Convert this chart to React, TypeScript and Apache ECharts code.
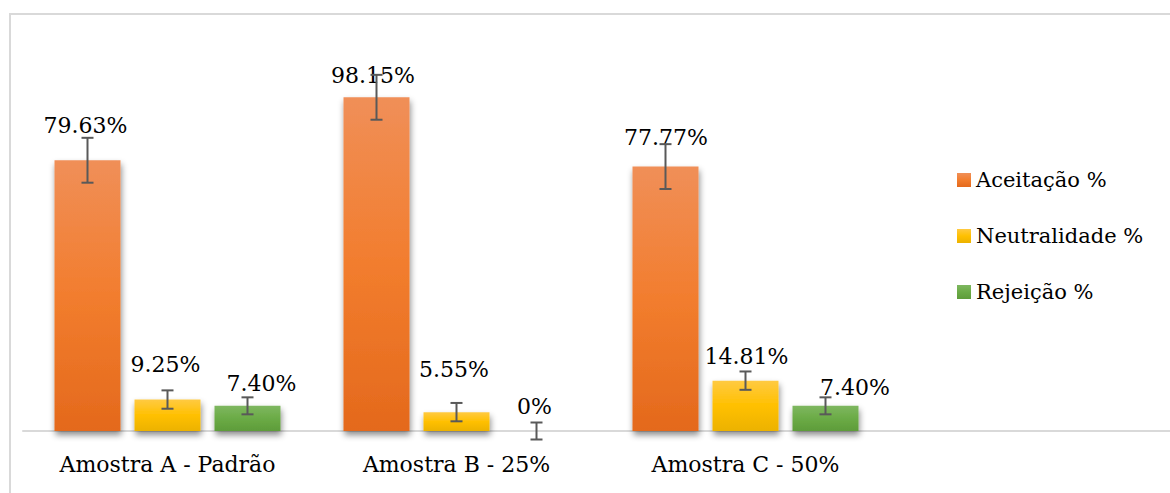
import React, { useEffect, useRef } from "react";
import * as echarts from "echarts";

const CATEGORIES = ["Amostra A - Padrão", "Amostra B - 25%", "Amostra C - 50%"];
const SERIES_NAMES = ["Aceitação %", "Neutralidade %", "Rejeição %"];
const ACEITACAO = [79.63, 98.15, 77.77];
const NEUTRALIDADE = [9.25, 5.55, 14.81];
const REJEICAO = [7.4, 0, 7.4];
const ERR_ACEITACAO = [6.6, 6.6, 6.6];
const ERR_NEUTRALIDADE = [2.7, 2.7, 2.7];
const ERR_REJEICAO = [2.5, 2.5, 2.5];

// style constants
const FONT = "DejaVu Serif";
const FONT_SIZE = 22;
const BAR_WIDTH = 66;
const BAR_GAP_PX = 14;
const GRADIENTS = [
  ["#F08F58", "#F27D2E", "#E4691C"],
  ["#FFCA42", "#FFC000", "#ECB200"],
  ["#7EB760", "#6BAB46", "#5E9C3A"],
];
// manual label placement [dx, dy] (label centre relative to bar top)
const LABEL_OFFSETS = [
  [[-2, -35], [-3.5, -22], [0.5, -29.5]],
  [[-2, -35], [-2.5, -43], [1, -24]],
  [[14, -22], [-2, -25], [29.5, -18]],
];

const VALUES = [ACEITACAO, NEUTRALIDADE, REJEICAO];
const ERRORS = [ERR_ACEITACAO, ERR_NEUTRALIDADE, ERR_REJEICAO];

function fmt(v: number) {
  return v === 0 ? "0%" : v.toFixed(2) + "%";
}

export default function App() {
  const ref = useRef<HTMLDivElement>(null);
  useEffect(() => {
    if (!ref.current) return;
    const chart = echarts.init(ref.current, null, { renderer: "svg" });

    const barSeries = SERIES_NAMES.map((name, s) => ({
      name,
      type: "bar",
      barWidth: BAR_WIDTH,
      barGap: (BAR_GAP_PX / BAR_WIDTH) * 100 + "%",
      itemStyle: {
        color: new echarts.graphic.LinearGradient(0, 0, 0, 1, [
          { offset: 0, color: GRADIENTS[s][0] },
          { offset: 0.5, color: GRADIENTS[s][1] },
          { offset: 1, color: GRADIENTS[s][2] },
        ]),
        shadowColor: "rgba(0,0,0,0.45)",
        shadowBlur: 6,
        shadowOffsetX: 1,
        shadowOffsetY: 4,
      },
      label: {
        show: true,
        position: "top",
        distance: 0,
        verticalAlign: "middle",
        fontFamily: FONT,
        fontSize: FONT_SIZE,
        color: "#000",
        formatter: (p: any) => fmt(p.value),
      },
      data: VALUES[s].map((v, i) => ({
        value: v,
        label: { offset: LABEL_OFFSETS[s][i] },
      })),
      z: 2,
    }));

    const errorSeries = SERIES_NAMES.map((_, s) => ({
      type: "custom",
      z: 10,
      silent: true,
      data: VALUES[s].map((v, i) => [i, v, ERRORS[s][i]]),
      renderItem: (params: any, api: any) => {
        const cat = api.value(0);
        const v = api.value(1);
        const e = api.value(2);
        const dx = (s - 1) * (BAR_WIDTH + BAR_GAP_PX);
        const top = api.coord([cat, v + e]);
        const bot = api.coord([cat, v - e]);
        const x = top[0] + dx;
        const cap = 6;
        const style = { stroke: "#595959", lineWidth: 2 };
        return {
          type: "group",
          children: [
            { type: "line", shape: { x1: x, y1: top[1], x2: x, y2: bot[1] }, style },
            { type: "line", shape: { x1: x - cap, y1: top[1], x2: x + cap, y2: top[1] }, style },
            { type: "line", shape: { x1: x - cap, y1: bot[1], x2: x + cap, y2: bot[1] }, style },
          ],
        };
      },
    }));

    chart.setOption({
      animation: false,
      grid: { left: 23, right: 280, top: 91, bottom: 62 },
      legend: {
        data: SERIES_NAMES,
        orient: "vertical",
        left: 957,
        top: 167,
        padding: 0,
        itemWidth: 14,
        itemHeight: 14,
        itemGap: 30,
        icon: "rect",
        textStyle: { fontFamily: FONT, fontSize: 21, lineHeight: 26, color: "#000" },
      },
      xAxis: {
        type: "category",
        data: CATEGORIES,
        axisLine: { lineStyle: { color: "#D9D9D9", width: 2 } },
        axisTick: { length: 7, lineStyle: { color: "#D9D9D9", width: 2 } },
        axisLabel: {
          fontFamily: FONT,
          fontSize: FONT_SIZE,
          lineHeight: 26,
          color: "#000",
          margin: 20,
        },
      },
      yAxis: {
        type: "value",
        min: 0,
        max: 100,
        show: false,
      },
      graphic: [
        {
          type: "rect",
          shape: { x: 10, y: 14, width: 1300, height: 600 },
          style: { fill: "none", stroke: "#D9D9D9", lineWidth: 2 },
          silent: true,
          z: -1,
        },
        {
          type: "line",
          shape: { x1: 890, y1: 431, x2: 1175, y2: 431 },
          style: { stroke: "#D9D9D9", lineWidth: 2 },
          silent: true,
        },
      ],
      series: [...barSeries, ...errorSeries],
    });
    return () => chart.dispose();
  }, []);
  return (
    <div
      ref={ref}
      style={{ position: "fixed", left: 0, top: 0, width: 1170, height: 493, background: "#fff" }}
    />
  );
}
